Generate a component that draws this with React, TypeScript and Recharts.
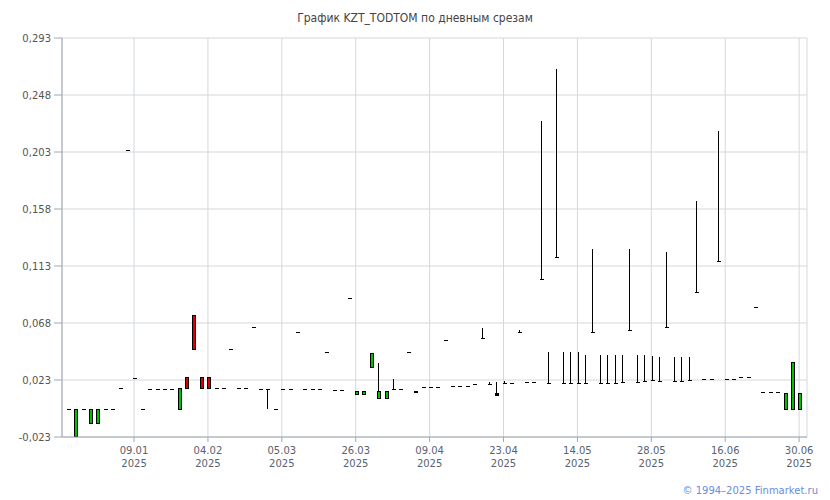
import React from "react";
import { ComposedChart, Bar, XAxis, YAxis, CartesianGrid } from "recharts";

// daily slices, index = trading day
const opens = [
  0, -0.022, 0, -0.0117, -0.0117, 0, 0, 0.0159, 0.2038, 0.0238,
  0, 0.0152, 0.0152, 0.0152, 0.0152, 0, 0.0246, 0.0738, 0.0246, 0.0246,
  0.0159, 0.0159, 0.0467, 0.0159, 0.0159, 0.0641, 0.0152, 0.0152, 0, 0.0152,
  0.0152, 0.0601, 0.0154, 0.0154, 0.0154, 0.0448, 0.0146, 0.0146, 0.087, 0.0112,
  0.0112, 0.0325, 0.008, 0.0086, 0.0154, 0.0154, 0.0448, 0.0128, 0.0167, 0.0167,
  0.0167, 0.0541, 0.0175, 0.0175, 0.0175, 0.0191, 0.0554, 0.0193, 0.012, 0.0201,
  0.0201, 0.0606, 0.0212, 0.0212, 0.102, 0.0199, 0.1194, 0.0199, 0.0199, 0.0199,
  0.0199, 0.0601, 0.0199, 0.0199, 0.0199, 0.0206, 0.062, 0.0206, 0.0217, 0.0223,
  0.0217, 0.0646, 0.0217, 0.0217, 0.0223, 0.0917, 0.023, 0.023, 0.1162, 0.023,
  0.023, 0.0246, 0.0246, 0.08, 0.0128, 0.0128, 0.0128, 0, 0, 0,
];

const closes = [
  0, 0, 0, 0, 0, 0, 0, 0.0159, 0.2038, 0.0238,
  0, 0.0152, 0.0152, 0.0152, 0.0152, 0.0159, 0.0159, 0.0467, 0.0159, 0.0159,
  0.0159, 0.0159, 0.0467, 0.0159, 0.0159, 0.0641, 0.0152, 0.0152, 0, 0.0152,
  0.0152, 0.0601, 0.0154, 0.0154, 0.0154, 0.0448, 0.0146, 0.0146, 0.087, 0.0141,
  0.0141, 0.0436, 0.0141, 0.0141, 0.0154, 0.0154, 0.0448, 0.0141, 0.0167, 0.0167,
  0.0167, 0.0541, 0.0175, 0.0175, 0.0175, 0.0191, 0.0554, 0.0193, 0.011, 0.0201,
  0.0201, 0.0606, 0.0212, 0.0212, 0.102, 0.0199, 0.1194, 0.0199, 0.0199, 0.0199,
  0.0199, 0.0601, 0.0199, 0.0199, 0.0199, 0.0206, 0.062, 0.0206, 0.0217, 0.0223,
  0.0217, 0.0646, 0.0217, 0.0217, 0.0223, 0.0917, 0.023, 0.023, 0.1162, 0.023,
  0.023, 0.0246, 0.0246, 0.08, 0.0128, 0.0128, 0.0128, 0.012, 0.0365, 0.012,
];

const highs = [
  0, 0, 0, 0, 0, 0, 0, 0.0159, 0.2038, 0.0238,
  0, 0.0152, 0.0152, 0.0152, 0.0152, 0.0159, 0.0246, 0.0738, 0.0246, 0.0246,
  0.0159, 0.0159, 0.0467, 0.0159, 0.0159, 0.0641, 0.0152, 0.0152, 0, 0.0152,
  0.0152, 0.0601, 0.0154, 0.0154, 0.0154, 0.0448, 0.0146, 0.0146, 0.087, 0.0141,
  0.0141, 0.0436, 0.0357, 0.0141, 0.0233, 0.0154, 0.0448, 0.0141, 0.0167, 0.0167,
  0.0167, 0.0541, 0.0175, 0.0175, 0.0175, 0.0191, 0.0633, 0.0212, 0.0212, 0.0214,
  0.0201, 0.062, 0.0212, 0.0212, 0.2272, 0.0448, 0.2678, 0.0448, 0.0443, 0.0448,
  0.0422, 0.1262, 0.0422, 0.0422, 0.0422, 0.0422, 0.1262, 0.0422, 0.0422, 0.0414,
  0.0409, 0.1233, 0.0409, 0.0409, 0.0409, 0.164, 0.023, 0.023, 0.2193, 0.023,
  0.023, 0.0246, 0.0246, 0.08, 0.0128, 0.0128, 0.0128, 0.012, 0.0365, 0.012,
];

const lows = [
  0, -0.022, 0, -0.0117, -0.0117, 0, 0, 0.0159, 0.2038, 0.0238,
  0, 0.0152, 0.0152, 0.0152, 0.0152, 0, 0.0159, 0.0467, 0.0159, 0.0159,
  0.0159, 0.0159, 0.0467, 0.0159, 0.0159, 0.0641, 0.0152, 0, 0, 0.0152,
  0.0152, 0.0601, 0.0154, 0.0154, 0.0154, 0.0448, 0.0146, 0.0146, 0.087, 0.0112,
  0.0112, 0.0325, 0.008, 0.0086, 0.0154, 0.0154, 0.0448, 0.0128, 0.0167, 0.0167,
  0.0167, 0.0541, 0.0175, 0.0175, 0.0175, 0.0191, 0.0554, 0.0193, 0.011, 0.0201,
  0.0201, 0.0606, 0.0212, 0.0212, 0.102, 0.0199, 0.1194, 0.0199, 0.0199, 0.0199,
  0.0199, 0.0601, 0.0199, 0.0199, 0.0199, 0.0206, 0.062, 0.0206, 0.0217, 0.0223,
  0.0217, 0.0646, 0.0217, 0.0217, 0.0223, 0.0917, 0.023, 0.023, 0.1162, 0.023,
  0.023, 0.0246, 0.0246, 0.08, 0.0128, 0.0128, 0.0128, 0, 0, 0,
];

const xTickIndex = [9, 19, 29, 39, 49, 59, 69, 79, 89, 99];
const xTickDates = [
  "09.01.2025", "04.02.2025", "05.03.2025", "26.03.2025", "09.04.2025",
  "23.04.2025", "14.05.2025", "28.05.2025", "16.06.2025", "30.06.2025",
];

const yTicks = [-0.0225, 0.0225, 0.0675, 0.1125, 0.1575, 0.2025, 0.2475, 0.2925];
const yTickLabels = ["-0,023", "0,023", "0,068", "0,113", "0,158", "0,203", "0,248", "0,293"];

const data = opens.map((open, i) => ({
  i,
  open,
  close: closes[i],
  high: highs[i],
  low: lows[i],
  range: [lows[i], highs[i]],
}));

const UP = "#00c000";
const DOWN = "#dd0000";

const Candle = (props: any) => {
  const { x, y, width, height, payload } = props;
  if (x == null || y == null) return null;
  const { open, close, high, low } = payload;
  const cx = Math.round(x + width / 2) + 0.5;
  const top = Math.min(y, y + height);
  const h = Math.abs(height);
  const k = high > low ? h / (high - low) : 0;
  const yOf = (v: number) => top + (high - v) * k;
  const yo = yOf(open);
  const yc = yOf(close);
  const parts: React.ReactNode[] = [];
  if (high > low) {
    parts.push(<line key="w" x1={cx} x2={cx} y1={top} y2={top + h} stroke="#000" strokeWidth={1} />);
  }
  if (open === close) {
    const yy = Math.round(yo) + 0.5;
    parts.push(<line key="d" x1={cx - 2} x2={cx + 2} y1={yy} y2={yy} stroke="#000" strokeWidth={1} />);
  } else {
    const y1 = Math.round(Math.min(yo, yc)) + 0.5;
    const y2 = Math.round(Math.max(yo, yc)) + 0.5;
    // very thin bodies come out as solid black in the original
    const fill = y2 - y1 <= 2 ? "#000" : close > open ? UP : DOWN;
    parts.push(
      <rect
        key="b"
        x={cx - 1.5}
        y={y1}
        width={3}
        height={Math.max(y2 - y1, 1)}
        fill={fill}
        stroke="#000"
        strokeWidth={1}
      />
    );
  }
  return <g shapeRendering="crispEdges">{parts}</g>;
};

const DateTick = (props: any) => {
  const { x, y, payload } = props;
  const idx = xTickIndex.indexOf(payload.value);
  const label = xTickDates[idx] || "";
  const day = label.slice(0, 5);
  const year = label.slice(6);
  return (
    <text x={x} y={y} textAnchor="middle" fill="#5a6270" fontSize={10} fontFamily="DejaVu Sans">
      <tspan x={x} dy={10}>{day}</tspan>
      <tspan x={x} dy={13}>{year}</tspan>
    </text>
  );
};

export default function App() {
  return (
    <div
      style={{
        position: "absolute",
        left: 0,
        top: 0,
        width: 830,
        height: 500,
        background: "#fff",
        fontFamily: "DejaVu Sans",
      }}
    >
      <div
        style={{
          position: "absolute",
          top: 11,
          left: 0,
          width: 830,
          textAlign: "center",
          fontSize: 12,
          color: "#444",
          fontFamily: "DejaVu Sans Condensed, DejaVu Sans",
        }}
      >
        График KZT_TODTOM по дневным срезам
      </div>
      <ComposedChart
        width={830}
        height={500}
        data={data}
        margin={{ top: 38, right: 23, bottom: 23, left: 0 }}
      >
        <CartesianGrid stroke="#d3d8dd" />
        <XAxis
          dataKey="i"
          type="number"
          domain={[-0.75, 100.07]}
          ticks={xTickIndex}
          allowDataOverflow
          height={40}
          tick={<DateTick />}
          tickSize={5}
          tickLine={{ stroke: "#a0a8b0" }}
          axisLine={{ stroke: "#a0a8b0" }}
          interval={0}
        />
        <YAxis
          type="number"
          domain={[-0.0225, 0.2925]}
          ticks={yTicks}
          allowDataOverflow
          width={62}
          tickSize={8}
          tickMargin={3}
          tickFormatter={(v: number, idx: number) => yTickLabels[idx]}
          tick={{ fontSize: 10, fill: "#555", fontFamily: "DejaVu Sans" }}
          tickLine={{ stroke: "#a0a8b0" }}
          axisLine={{ stroke: "#a0a8b0" }}
          interval={0}
        />
        <Bar dataKey="range" barSize={4} shape={<Candle />} isAnimationActive={false} />
      </ComposedChart>
      <div
        style={{
          position: "absolute",
          right: 12,
          top: 485,
          fontSize: 10,
          color: "#6a8ee0",
          fontFamily: "DejaVu Sans",
        }}
      >
        © 1994–2025 Finmarket.ru
      </div>
    </div>
  );
}
